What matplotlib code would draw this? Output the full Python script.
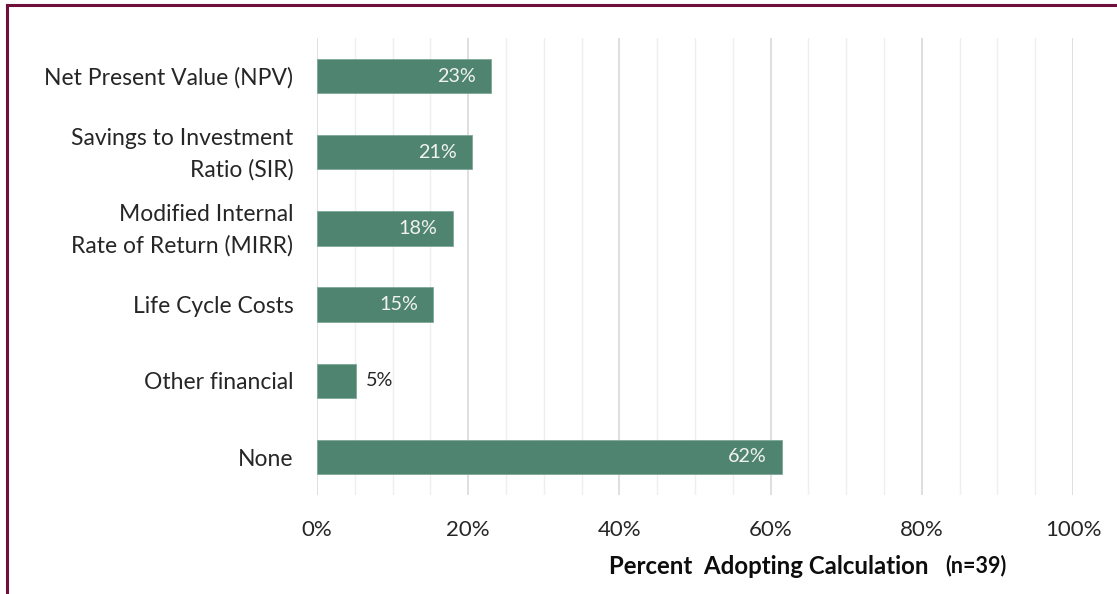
import matplotlib
matplotlib.use("Agg")
import matplotlib.pyplot as plt
from matplotlib.lines import Line2D
import numpy as np

categories = ["Net Present Value (NPV)", "Savings to Investment\nRatio (SIR)",
              "Modified Internal\nRate of Return (MIRR)", "Life Cycle Costs",
              "Other financial", "None"]
values = [9/39*100, 8/39*100, 7/39*100, 6/39*100, 2/39*100, 24/39*100]
value_labels = ["23%", "21%", "18%", "15%", "5%", "62%"]
xticks = [0, 20, 40, 60, 80, 100]
xtick_labels = ["0%", "20%", "40%", "60%", "80%", "100%"]

plt.rcParams['font.family'] = ['Lato', 'DejaVu Sans']

fig = plt.figure(figsize=(11.17, 5.94), dpi=100)
ax = fig.add_axes([317/1117, 1-495/594, (1073-317)/1117, (495-38)/594])

y = np.arange(len(categories))
bar_color = "#4F8570"
ax.barh(y, values, height=0.45, color=bar_color, edgecolor="#7FA798", linewidth=0.6, zorder=3)
ax.set_ylim(len(categories)-0.5, -0.5)
ax.set_xlim(0, 100)

ax.set_xticks(xticks)
ax.set_xticklabels(xtick_labels, fontsize=16, color="#262626")
ax.set_xticks(np.arange(0, 101, 5), minor=True)
ax.set_yticks(y)
ax.set_yticklabels([])
ax.tick_params(axis="both", which="both", length=0)
ax.tick_params(axis="x", pad=18)
ax.grid(axis="x", which="major", color="#D9D9D9", linewidth=1.2, zorder=0)
ax.grid(axis="x", which="minor", color="#EFEFEF", linewidth=1.0, zorder=0)
for s in ax.spines.values():
    s.set_visible(False)

for yi, cat in zip(y, categories):
    ax.annotate(cat, xy=(0, yi), xycoords=("axes fraction", "data"),
                xytext=(-17, -1.5), textcoords="offset points",
                ha="right", va="center", multialignment="right", linespacing=1.55,
                fontsize=16.5, color="#262626", annotation_clip=False)

for yi, v, lab in zip(y, values, value_labels):
    if v > 10:
        ax.text(v - 2.0, yi, lab, ha="right", va="center", color="#F2F2F2", fontsize=14.2, zorder=4)
    else:
        ax.text(v + 1.3, yi, lab, ha="left", va="center", color="#262626", fontsize=14.2, zorder=4)

fig.text(609/1117, 1-566/594, "Percent  Adopting Calculation", ha="left", va="center",
         fontsize=17.3, fontweight="bold", color="#0D0D0D")
fig.text(1006/1117, 1-566/594, "(n=39)", ha="right", va="center",
         fontsize=15.5, fontweight="bold", color="#0D0D0D")

border = "#6E0F3C"
fig.add_artist(Line2D([7/1117, 1.0], [1-5/594, 1-5/594], transform=fig.transFigure, color=border, linewidth=2.2))
fig.add_artist(Line2D([7/1117, 7/1117], [0, 1-5/594], transform=fig.transFigure, color=border, linewidth=2.2))

fig.savefig("out.png", dpi=100)
